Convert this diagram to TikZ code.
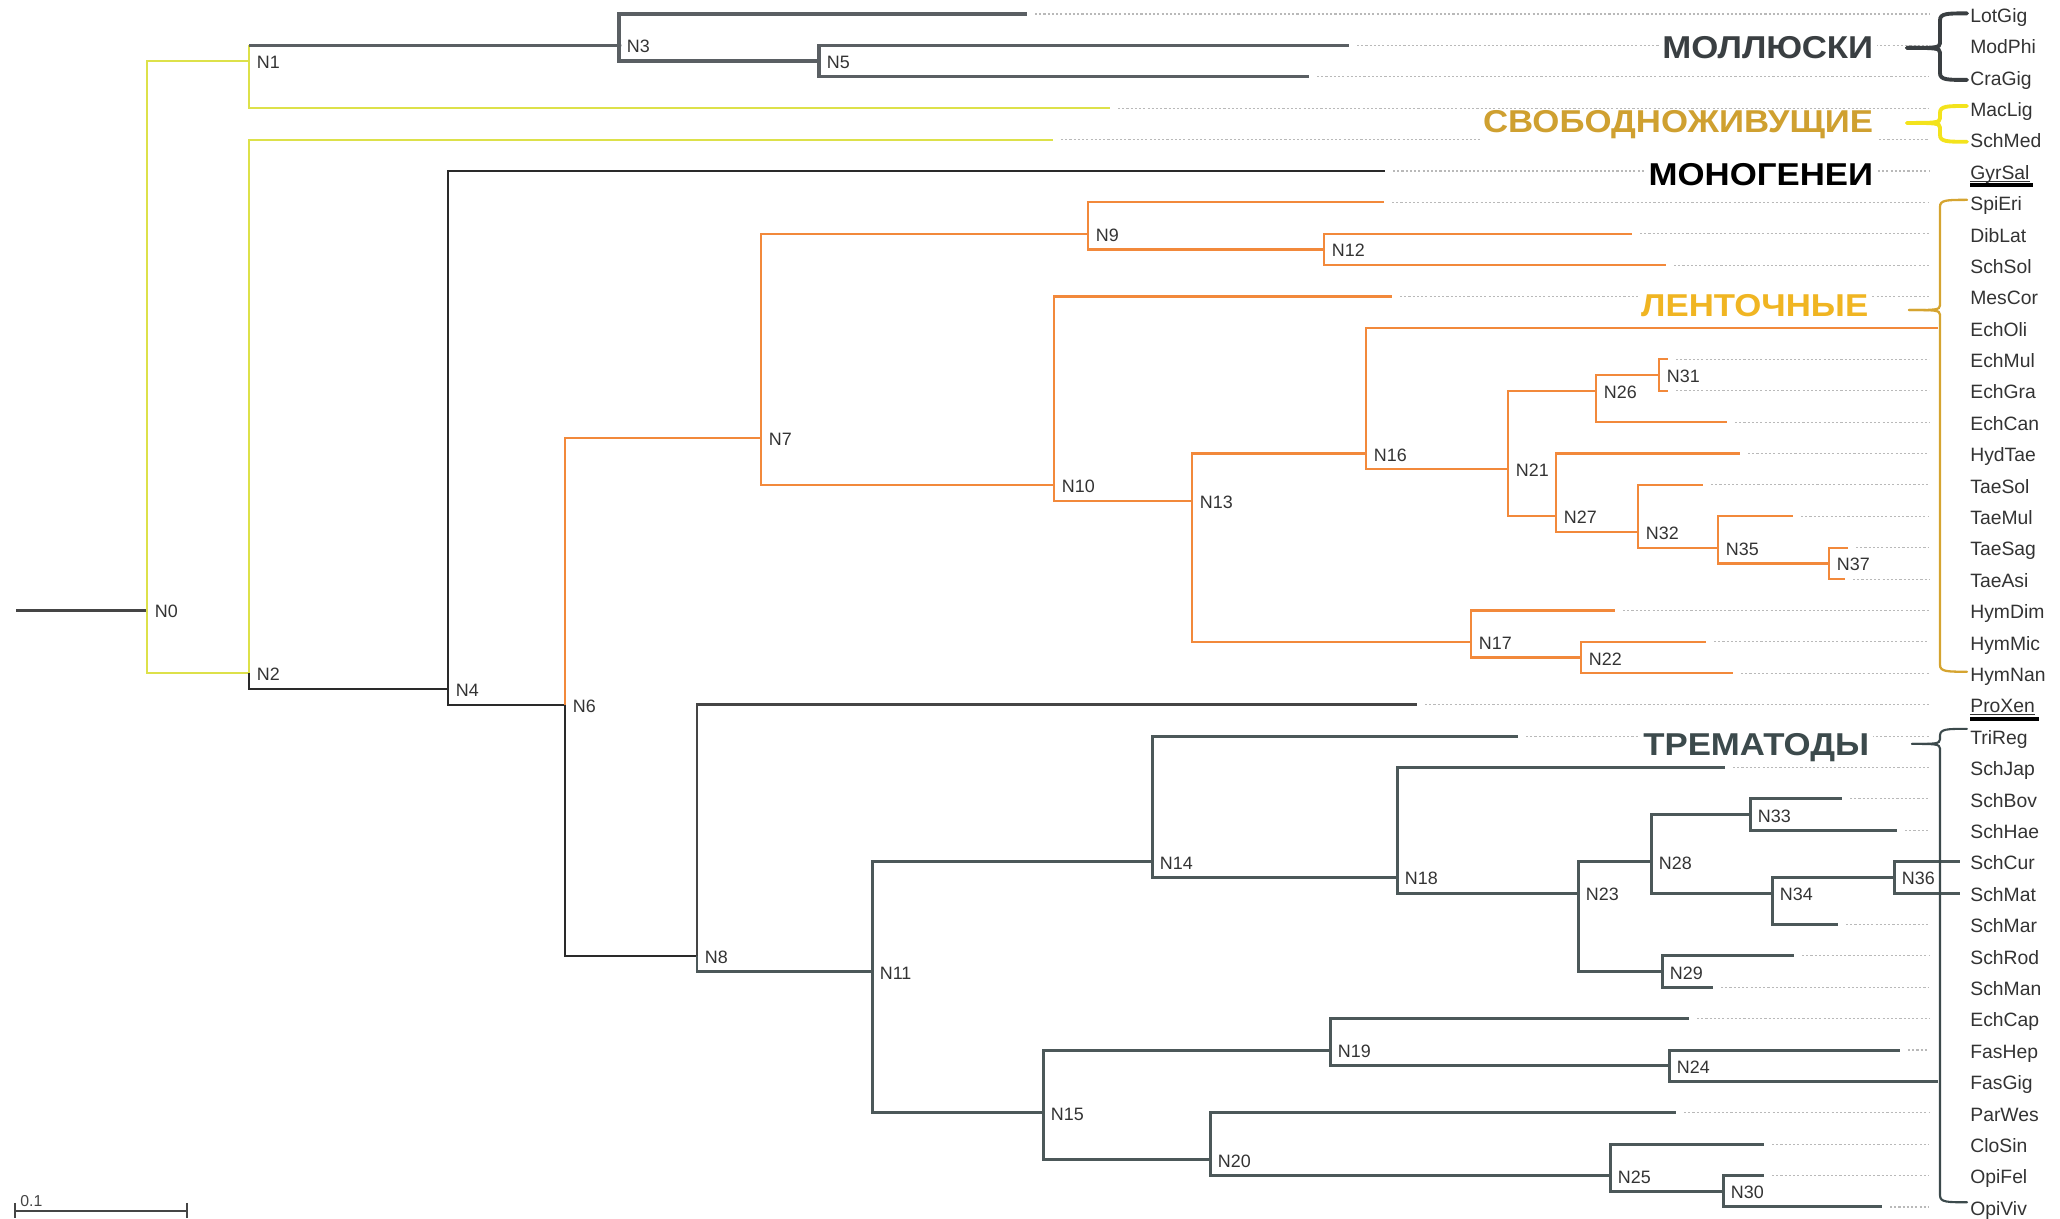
\documentclass[tikz,border=0pt]{standalone}
\usepackage{fontspec}
\setmainfont{Liberation Sans}
\newfontfamily\grpfont[FakeStretch=1.1]{Liberation Sans}
\definecolor{rootc}{HTML}{454545}
\definecolor{molc}{HTML}{5A5F63}
\definecolor{freec}{HTML}{DDE14A}
\definecolor{monoc}{HTML}{2A2A2A}
\definecolor{cesc}{HTML}{F2893B}
\definecolor{tremc}{HTML}{4C5859}
\definecolor{proxc}{HTML}{454545}
\definecolor{txtc}{HTML}{333333}
\definecolor{molt}{HTML}{3A3F42}
\definecolor{freet}{HTML}{CFA030}
\definecolor{cest}{HTML}{F0B522}
\definecolor{tremt}{HTML}{3C4A4C}
\definecolor{freeb}{HTML}{F3E31C}
\definecolor{cesb}{HTML}{D5A430}

% brace in front of a clade: style, top, bottom, tip row, tip x
\newcommand{\cladebrace}[5]{%
  \draw[#1] (1967,#2) .. controls (1947,#2) and (1940,#2) .. (1940,#2+0.22) -- (1940,#4-0.15)
    .. controls (1940,#4) and (1935,#4) .. (#5,#4);
  \draw[#1] (#5,#4) .. controls (1935,#4) and (1940,#4) .. (1940,#4+0.15) -- (1940,#3-0.22)
    .. controls (1940,#3) and (1947,#3) .. (1967,#3);}

\begin{document}
\begin{tikzpicture}[x=0.02cm,y=-0.628cm,
    rootb/.style={draw=rootc,line width=1.3pt},
    mol/.style={draw=molc,line width=1.9pt},
    free/.style={draw=freec,line width=1.1pt},
    mono/.style={draw=monoc,line width=0.95pt},
    prox/.style={draw=proxc,line width=1.4pt},
    ces/.style={draw=cesc,line width=1.25pt},
    trem/.style={draw=tremc,line width=1.7pt},
    leader/.style={draw=gray!55,line width=0.6pt,dash pattern=on 1.2pt off 1.2pt},
    leaf/.style={anchor=base west,inner sep=0pt,text=txtc,font=\fontsize{11}{13}\selectfont,yshift=-0.165cm},
    nlab/.style={anchor=base west,inner sep=0pt,text=txtc,font=\fontsize{10.2}{12}\selectfont,xshift=0.15cm,yshift=-0.15cm},
    grp/.style={anchor=base east,fill=white,inner xsep=2pt,inner ysep=0.3pt,font=\grpfont\bfseries\fontsize{18}{20}\selectfont},
    bracestyle/.style={line width=#1,line cap=round},
  ]
  \useasboundingbox (0,-0.4459) rectangle (2060,38.376);

  % leaves: name / row / end of branch
  \coordinate (dots) at (1929,0);
  \foreach \nm/\i/\ex in {LotGig/0/1027, ModPhi/1/1349, CraGig/2/1309, MacLig/3/1110,
      SchMed/4/1053, GyrSal/5/1385, SpiEri/6/1384, DibLat/7/1632, SchSol/8/1666,
      MesCor/9/1392, EchOli/10/1938, EchMul/11/1668, EchGra/12/1668, EchCan/13/1727,
      HydTae/14/1740, TaeSol/15/1703, TaeMul/16/1793, TaeSag/17/1848, TaeAsi/18/1845,
      HymDim/19/1615, HymMic/20/1706, HymNan/21/1733, ProXen/22/1417, TriReg/23/1518,
      SchJap/24/1725, SchBov/25/1842, SchHae/26/1897, SchCur/27/1960, SchMat/28/1960,
      SchMar/29/1838, SchRod/30/1794, SchMan/31/1713, EchCap/32/1689, FasHep/33/1900,
      FasGig/34/1938, ParWes/35/1676, CloSin/36/1764, OpiFel/37/1764, OpiViv/38/1882} {
    \coordinate (e\nm) at (\ex,\i);
    \node[leaf] (\nm) at (1970,\i) {\nm};
    \ifnum\ex<1915 \draw[leader] ([xshift=0.16cm]e\nm) -- (e\nm -| dots);\fi
  }

  % inner nodes: number / x / row
  \foreach \n/\x/\i in {0/147/19, 1/249/1.5, 2/249/21, 3/619/1, 4/448/21.5, 5/819/1.5,
      6/565/22, 7/761/13.5, 8/697/30, 9/1088/7, 10/1054/15, 11/872/30.5, 12/1324/7.5,
      13/1192/15.5, 14/1152/27, 15/1043/35, 16/1366/14, 17/1471/20, 18/1397/27.5,
      19/1330/33, 20/1210/36.5, 21/1508/14.5, 22/1581/20.5, 23/1578/28, 24/1669/33.5,
      25/1610/37, 26/1596/12, 27/1556/16, 28/1651/27, 29/1662/30.5, 30/1723/37.5,
      31/1659/11.5, 32/1638/16.5, 33/1750/25.5, 34/1772/28, 35/1718/17, 36/1894/27.5,
      37/1829/17.5} {
    \coordinate (N\n) at (\x,\i);
    \node[nlab] (N\n-l) at (N\n) {N\n};
  }

  % branches
  \coordinate (R) at (16,19);
  \draw[rootb] (R) -- (N0);
  \draw[free] (N0) |- (N1);
  \draw[free] (N0) |- (N2);
  \draw[free] (N1) |- (eMacLig);
  \draw[free] (N1) -- (N1 |- N3);
  \draw[mol] (N1 |- N3) -- (N3);
  \draw[free] (N2) |- (eSchMed);
  \draw[mono] (N2) |- (N4);
  \foreach \a/\b in {N3/eLotGig, N3/N5, N5/eModPhi, N5/eCraGig}
    \draw[mol] (\a) |- (\b);
  \fill[molc] (N3) circle (0.05cm);
  \draw[mono] (N4) |- (eGyrSal);
  \draw[mono] (N4) |- (N6);
  \draw[ces] (N6) |- (N7);
  \draw[mono] (N6) |- (N8);
  \foreach \a/\b in {N7/N9, N7/N10, N9/eSpiEri, N9/N12, N12/eDibLat, N12/eSchSol,
      N10/eMesCor, N10/N13, N13/N16, N13/N17, N16/eEchOli, N16/N21, N21/N26, N21/N27,
      N26/N31, N26/eEchCan, N31/eEchMul, N31/eEchGra, N27/eHydTae, N27/N32,
      N32/eTaeSol, N32/N35, N35/eTaeMul, N35/N37, N37/eTaeSag, N37/eTaeAsi,
      N17/eHymDim, N17/N22, N22/eHymMic, N22/eHymNan}
    \draw[ces] (\a) |- (\b);
  \draw[prox] (N8) |- (eProXen);
  \foreach \a/\b in {N8/N11, N11/N14, N11/N15, N14/eTriReg, N14/N18, N18/eSchJap,
      N18/N23, N23/N28, N23/N29, N28/N33, N28/N34, N33/eSchBov, N33/eSchHae, N34/N36,
      N34/eSchMar, N36/eSchCur, N36/eSchMat, N29/eSchRod, N29/eSchMan, N15/N19,
      N15/N20, N19/eEchCap, N19/N24, N24/eFasHep, N24/eFasGig, N20/eParWes, N20/N25,
      N25/eCloSin, N25/N30, N30/eOpiFel, N30/eOpiViv}
    \draw[trem] (\a) |- (\b);

  % underlined single taxa
  \foreach \nm in {GyrSal, ProXen} {
    \draw[txtc,line width=0.4pt] ([yshift=-1pt]\nm.base west) -- ([yshift=-1pt]\nm.base east);
    \fill[black] ([yshift=-2.2pt]\nm.base west) rectangle ([yshift=-4.6pt,xshift=2pt]\nm.base east);
  }

  % group names
  \node[grp,text=molt] (gMol) at (1877,1.43) {МОЛЛЮСКИ};
  \node[grp,text=freet] (gFree) at (1877,3.79) {СВОБОДНОЖИВУЩИЕ};
  \node[grp,text=black] (gMono) at (1877,5.45) {МОНОГЕНЕИ};
  \node[grp,text=cest] (gCes) at (1872,9.64) {ЛЕНТОЧНЫЕ};
  \node[grp,text=tremt] (gTrem) at (1873,23.63) {ТРЕМАТОДЫ};

  \cladebrace{bracestyle=2.2pt,draw=molt}{-0.02}{2.1}{1.08}{1907}
  \cladebrace{bracestyle=2.2pt,draw=freeb}{2.93}{4.07}{3.47}{1907}
  \cladebrace{bracestyle=1.3pt,draw=cesb}{5.92}{20.95}{9.43}{1909}
  \cladebrace{bracestyle=1.2pt,draw=tremt}{22.77}{37.85}{23.25}{1912}

  % scale bar
  \coordinate (sbL) at (15,38.14);
  \coordinate (sbR) at (187,38.14);
  \draw[draw=rootc,line width=1.1pt] (sbL) -- (sbR);
  \draw[draw=rootc,line width=0.7pt] (sbL) ++(0,-0.27) -- ++(0,0.47);
  \draw[draw=rootc,line width=0.7pt] (sbR) ++(0,-0.27) -- ++(0,0.47);
  \node[anchor=base west,inner sep=0pt,text=rootc,font=\fontsize{9}{10}\selectfont] (sbT) at (20,38.0) {0.1};
\end{tikzpicture}
\end{document}
